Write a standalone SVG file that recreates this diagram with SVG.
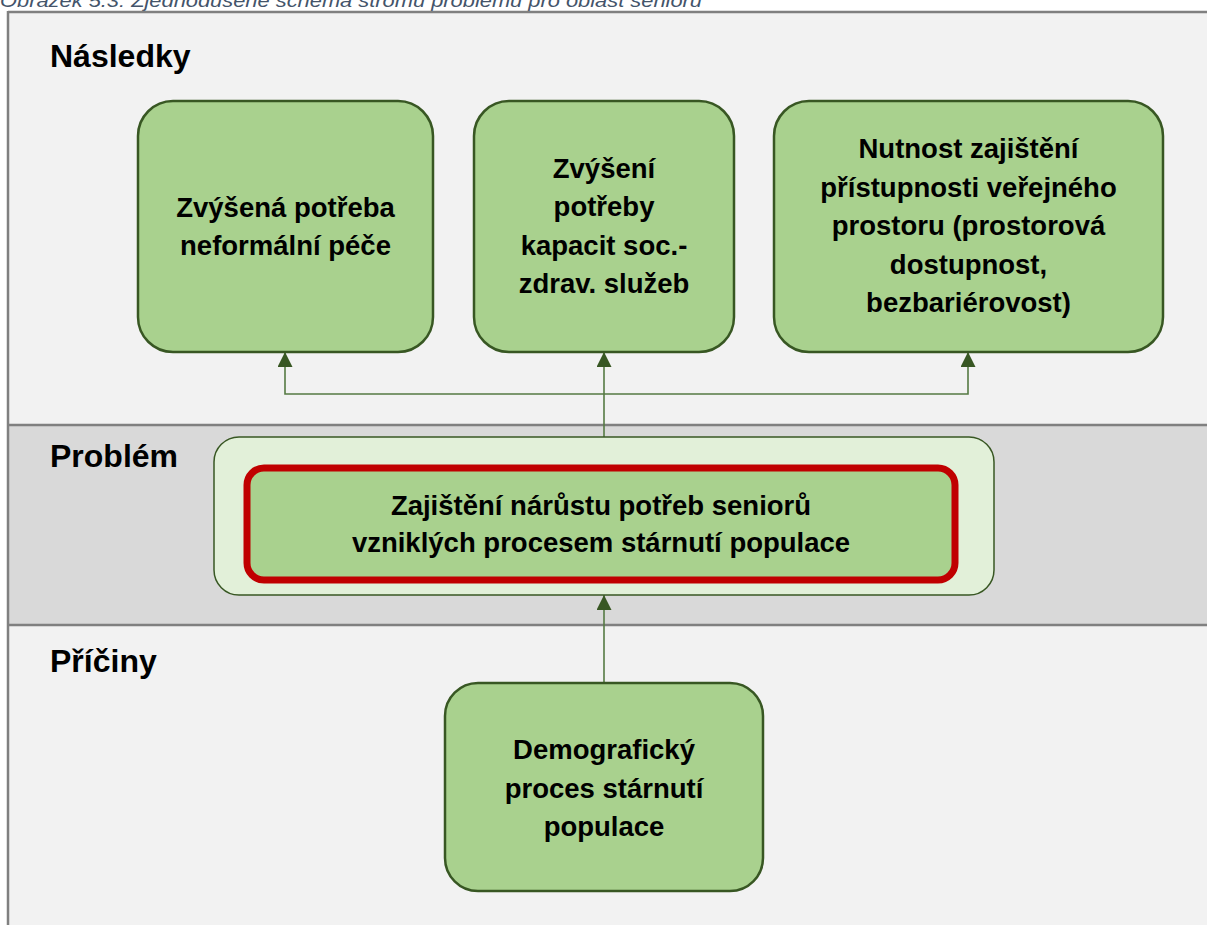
<svg xmlns="http://www.w3.org/2000/svg" width="1207" height="925" viewBox="0 0 1207 925">
<style>
.caption{font-family:"Liberation Sans",Arial,sans-serif;font-style:italic;font-size:18px;fill:#44546a}
.head{font-family:"Liberation Sans",Arial,sans-serif;font-weight:bold;font-size:32px;fill:#000}
.box{fill:#a9d18e;stroke:#385723;stroke-width:2.5}
.t{font-family:"Liberation Sans",Arial,sans-serif;font-weight:bold;font-size:27.5px;fill:#000;text-anchor:middle}
.conn{fill:none;stroke:#557a43;stroke-width:1.6}
.div{stroke:#808080;stroke-width:2.5}
</style>
<defs>
<marker id="arr" viewBox="0 0 15 15" markerUnits="userSpaceOnUse" markerWidth="15" markerHeight="15" refX="15" refY="7.5" orient="auto">
<path d="M0,0 L15,7.5 L0,15 z" fill="#385723"/>
</marker>
</defs>
<rect width="1207" height="925" fill="#ffffff"/>
<text class="caption" x="0" y="7" textLength="702" lengthAdjust="spacingAndGlyphs">Obrázek 5.3: Zjednodušené schéma stromu problémů pro oblast seniorů</text>
<g id="bands">
<rect x="8" y="12" width="1210" height="413" fill="#f2f2f2"/>
<rect x="8" y="425" width="1210" height="200" fill="#d9d9d9"/>
<rect x="8" y="625" width="1210" height="310" fill="#f2f2f2"/>
<line class="div" x1="8" y1="12" x2="1210" y2="12"/>
<line class="div" x1="8" y1="11" x2="8" y2="930"/>
<line class="div" x1="8" y1="425" x2="1210" y2="425"/>
<line class="div" x1="8" y1="625" x2="1210" y2="625"/>
<text class="head" x="50" y="67">Následky</text>
<text class="head" x="50" y="467">Problém</text>
<text class="head" x="50" y="672">Příčiny</text>
</g>
<g id="connectors">
<path class="conn" d="M604,437 V352" marker-end="url(#arr)"/>
<path class="conn" d="M604,394 H285 V352" marker-end="url(#arr)"/>
<path class="conn" d="M604,394 H968 V352" marker-end="url(#arr)"/>
<path class="conn" d="M604,683 V595" marker-end="url(#arr)"/>
</g>
<g id="n1">
<rect class="box" x="138" y="101" width="295" height="251" rx="35"/>
<text class="t" x="285.5" y="217">Zvýšená potřeba</text>
<text class="t" x="285.5" y="255">neformální péče</text>
</g>
<g id="n2">
<rect class="box" x="474" y="101" width="260" height="251" rx="35"/>
<text class="t" x="604" y="178">Zvýšení</text>
<text class="t" x="604" y="216">potřeby</text>
<text class="t" x="604" y="255">kapacit soc.-</text>
<text class="t" x="604" y="293">zdrav. služeb</text>
</g>
<g id="n3">
<rect class="box" x="774" y="101" width="389" height="251" rx="35"/>
<text class="t" x="968.5" y="158">Nutnost zajištění</text>
<text class="t" x="968.5" y="197">přístupnosti veřejného</text>
<text class="t" x="968.5" y="235">prostoru (prostorová</text>
<text class="t" x="968.5" y="274">dostupnost,</text>
<text class="t" x="968.5" y="312">bezbariérovost)</text>
</g>
<g id="problem">
<rect x="214" y="437" width="780" height="158" rx="25" fill="#e2f0d9" stroke="#385723" stroke-width="1.5"/>
<rect x="247" y="468" width="708" height="112" rx="17" fill="#a9d18e" stroke="#c00000" stroke-width="7"/>
<text class="t" x="601" y="515">Zajištění nárůstu potřeb seniorů</text>
<text class="t" x="601" y="552">vzniklých procesem stárnutí populace</text>
</g>
<g id="n4">
<rect class="box" x="445" y="683" width="318" height="208" rx="33"/>
<text class="t" x="604" y="759">Demografický</text>
<text class="t" x="604" y="798">proces stárnutí</text>
<text class="t" x="604" y="836">populace</text>
</g>
</svg>
